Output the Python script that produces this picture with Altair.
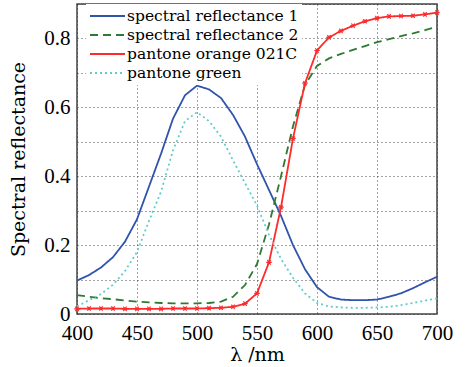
import altair as alt
import pandas as pd

wavelength = list(range(400, 701, 10))

refl1 = [0.097, 0.113, 0.135, 0.165, 0.21, 0.275, 0.37, 0.465, 0.567, 0.635, 0.663,
         0.652, 0.627, 0.578, 0.515, 0.435, 0.36, 0.285, 0.2, 0.13, 0.078,
         0.05, 0.042, 0.04, 0.04, 0.042, 0.05, 0.06, 0.075, 0.092, 0.108]
refl2 = [0.055, 0.05, 0.046, 0.043, 0.039, 0.036, 0.034, 0.032, 0.031, 0.031, 0.031,
         0.032, 0.036, 0.05, 0.084, 0.145, 0.26, 0.4, 0.545, 0.665, 0.72,
         0.742, 0.755, 0.767, 0.778, 0.789, 0.798, 0.807, 0.815, 0.824, 0.834]
orange = [0.015, 0.016, 0.016, 0.016, 0.015, 0.015, 0.015, 0.015, 0.016, 0.016, 0.016,
          0.017, 0.018, 0.021, 0.03, 0.06, 0.15, 0.31, 0.51, 0.67, 0.765,
          0.803, 0.822, 0.837, 0.85, 0.859, 0.864, 0.865, 0.866, 0.87, 0.875]
green = [0.022, 0.04, 0.058, 0.085, 0.125, 0.18, 0.27, 0.355, 0.475, 0.56, 0.586,
         0.56, 0.515, 0.446, 0.38, 0.315, 0.23, 0.16, 0.105, 0.06, 0.032,
         0.022, 0.019, 0.018, 0.018, 0.019, 0.021, 0.026, 0.032, 0.039, 0.045]

names = ["spectral reflectance 1", "spectral reflectance 2", "pantone orange 021C", "pantone green"]
colors = ["#3053ac", "#2e7a32", "#ff2a2a", "#62cccc"]
dashes = [[1, 0], [8, 5], [1, 0], [2, 3]]

rows = []
for name, vals in zip(names, [refl1, refl2, orange, green]):
    for w, v in zip(wavelength, vals):
        rows.append({"wl": w, "r": v, "series": name})
df = pd.DataFrame(rows)

TICKFONT = "Liberation Serif, serif"
TEXTFONT = "DejaVu Serif, serif"

x = alt.X("wl:Q", scale=alt.Scale(domain=[400, 700], nice=False),
          axis=alt.Axis(values=[400, 450, 500, 550, 600, 650, 700], title="λ /nm",
                        format="d", labelFlush=False))
y = alt.Y("r:Q", scale=alt.Scale(domain=[0, 0.9], nice=False),
          axis=alt.Axis(values=[0, 0.1, 0.2, 0.3, 0.4, 0.5, 0.6, 0.7, 0.8, 0.9],
                        format="~g", title="Spectral reflectance", labelFlush=False,
                        labelExpr="indexof(['0','0.2','0.4','0.6','0.8'], datum.label) >= 0 ? datum.label : ''"))

lines = alt.Chart(df).mark_line(strokeWidth=1.8).encode(
    x=x, y=y,
    color=alt.Color("series:N", scale=alt.Scale(domain=names, range=colors),
                    legend=alt.Legend(title=None, orient="none", legendX=9, legendY=0,
                                      symbolType="stroke", symbolSize=1225,
                                      symbolStrokeWidth=2, labelFont=TEXTFONT,
                                      labelFontSize=15.5, labelColor="#000",
                                      labelOffset=1, rowPadding=1, padding=3,
                                      clipHeight=18,
                                      fillColor="white", labelLimit=400)),
    strokeDash=alt.StrokeDash("series:N", scale=alt.Scale(domain=names, range=dashes),
                              legend=None),
    detail="series:N",
)

star = "M-1,0L1,0M-0.6,-0.8L0.6,0.8M-0.6,0.8L0.6,-0.8"
points = alt.Chart(df).transform_filter(
    alt.datum.series == "pantone orange 021C"
).mark_point(shape=star, size=30, filled=False, strokeWidth=1.2, color="#ff2a2a",
             opacity=1).encode(x=x, y=y)

chart = alt.layer(lines, points).properties(
    width=360, height=310,
    autosize=alt.AutoSizeParams(type="none"),
    padding={"left": 77, "top": 4, "right": 29, "bottom": 53},
    background="white",
).configure_view(
    stroke="#444", strokeWidth=1.5
).configure_axis(
    grid=True, gridColor="#333", gridDash=[1, 3], gridWidth=1, gridOpacity=0.9,
    domain=False, ticks=False,
    labelFont=TICKFONT, labelFontSize=21, labelColor="#000",
    titleFont=TEXTFONT, titleFontSize=19, titleFontWeight="normal", titleColor="#000",
).configure_axisX(
    labelPadding=8, titlePadding=2
).configure_axisY(
    labelPadding=7, titlePadding=15
)

chart.save("out.html", embed_options={"renderer": "svg", "actions": False})
